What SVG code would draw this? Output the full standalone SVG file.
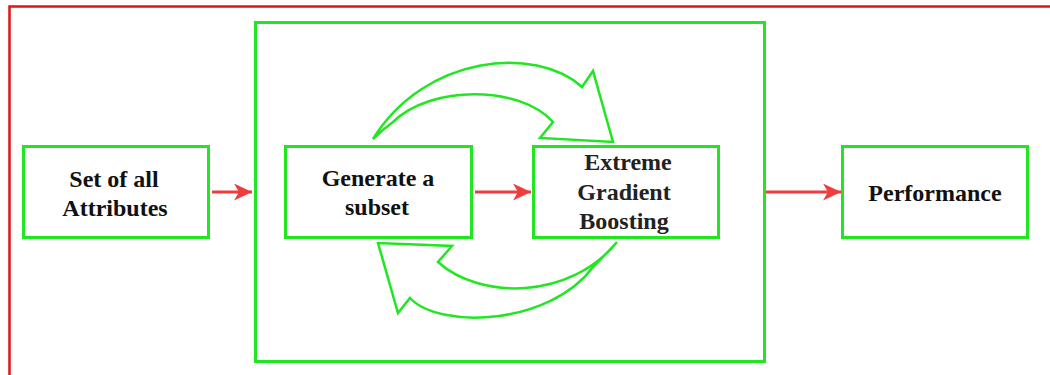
<svg xmlns="http://www.w3.org/2000/svg" width="1050" height="375" viewBox="0 0 1050 375">
  <style>
    .box { fill: #ffffff; stroke: #22e622; stroke-width: 3; }
    .loop { fill: #ffffff; stroke: #22e622; stroke-width: 2.5; stroke-linejoin: miter; }
    .flow { stroke: #f03c3c; stroke-width: 3; fill: none; }
  </style>
  <defs>
    <marker id="redHead" viewBox="0 0 18 17" refX="18" refY="8.5" markerWidth="18" markerHeight="17" markerUnits="userSpaceOnUse" orient="auto">
      <path d="M0,0 L18,8.5 L0,17 L5,8.5 Z" fill="#f03c3c"/>
    </marker>
  </defs>

  <rect width="1050" height="375" fill="#ffffff"/>
  <!-- outer frame -->
  <rect x="9.5" y="6.5" width="1100" height="420" fill="none" stroke="#e01414" stroke-width="2.5"/>

  <!-- inner iteration container -->
  <g id="loop-container">
    <rect class="box" x="255.5" y="22.5" width="509" height="339"/>
  </g>

  <g font-family="Liberation Serif, Times New Roman, serif" font-weight="bold" font-size="24" text-anchor="middle" fill="#111111">
    <g id="attributes">
      <rect class="box" x="23.5" y="146.5" width="185" height="91"/>
      <text x="114" y="187">Set of all</text>
      <text x="115" y="216">Attributes</text>
    </g>

    <g id="subset">
      <rect class="box" x="285.5" y="146.5" width="186" height="91"/>
      <text x="378" y="186">Generate a</text>
      <text x="377" y="215">subset</text>
    </g>

    <g id="xgboost" fill="#222222">
      <rect class="box" x="533.5" y="146.5" width="185" height="91"/>
      <text x="628" y="170">Extreme</text>
      <text x="624" y="200">Gradient</text>
      <text x="624" y="229">Boosting</text>
    </g>

    <g id="performance">
      <rect class="box" x="842.5" y="146.5" width="185" height="91"/>
      <text x="935" y="201">Performance</text>
    </g>
  </g>

  <g id="connectors">
    <line class="flow" x1="212" y1="192" x2="252" y2="192" marker-end="url(#redHead)"/>
    <line class="flow" x1="475" y1="192" x2="531" y2="192" marker-end="url(#redHead)"/>
    <line class="flow" x1="766" y1="192" x2="841" y2="192" marker-end="url(#redHead)"/>
    <!-- feedback loop arrows -->
    <path class="loop" d="M373,139 C425,55 535,45 582,87 L593,71 L613,142 L540,138 L553,122 C520,85 430,85 393,122 Q382,130 373,139 Z"/>
    <path class="loop" d="M617,242 C570,300 480,300 438,262 L452,246 L378,243 L398,313 L410,298 C440,330 550,325 593,267 Q605,255 617,242 Z"/>
  </g>
</svg>
